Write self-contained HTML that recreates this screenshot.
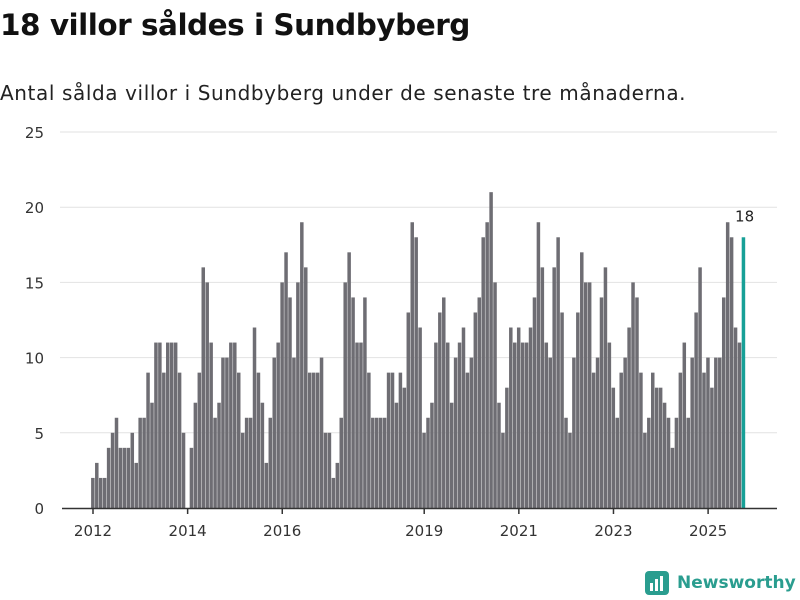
<!DOCTYPE html>
<html><head><meta charset="utf-8"><style>
body{margin:0;width:800px;height:600px;background:#fff;font-family:"Liberation Sans","DejaVu Sans",sans-serif;overflow:hidden;position:relative}
h1{position:absolute;left:0;top:8px;margin:0;font-size:29.5px;font-weight:bold;color:#111;font-family:"DejaVu Sans","Liberation Sans",sans-serif;letter-spacing:-0.5px}
.sub{position:absolute;left:0;top:81px;font-size:20px;color:#222;font-family:"DejaVu Sans","Liberation Sans",sans-serif;letter-spacing:0.6px}
svg{position:absolute;left:0;top:0}
</style></head><body>
<h1>18 villor såldes i Sundbyberg</h1>
<div class="sub">Antal sålda villor i Sundbyberg under de senaste tre månaderna.</div>
<svg id="chart" width="800" height="600"></svg>
<script>
const values=[2,3,2,2,4,5,6,4,4,4,5,3, 6,6,9,7,11,11,9,11,11,11,9,5, 0,4,7,9,16,15,11,6,7,10,10,11, 11,9,5,6,6,12,9,7,3,6,10,11, 15,17,14,10,15,19,16,9,9,9,10,5, 5,2,3,6,15,17,14,11,11,14,9,6, 6,6,6,9,9,7,9,8,13,19,18,12, 5,6,7,11,13,14,11,7,10,11,12,9, 10,13,14,18,19,21,15,7,5,8,12,11, 12,11,11,12,14,19,16,11,10,16,18,13, 6,5,10,13,17,15,15,9,10,14,16,11, 8,6,9,10,12,15,14,9,5,6,9,8, 8,7,6,4,6,9,11,6,10,13,16,9, 10,8,10,10,14,19,18,12,11,18];
const yTicks=[0,5,10,15,20,25];
const xTickLabels=["2012","2014","2016","2019","2021","2023","2025"];
const xTickIndex=[0,24,48,84,108,132,156];
const lastLabel="18";
const NS="http://www.w3.org/2000/svg";
const svg=document.getElementById('chart');
const step=3.943;
function x(i){return 93+i*step;}
function y(v){return 508-v*15.04;}
function mk(t,a){const e=document.createElementNS(NS,t);for(const k in a)e.setAttribute(k,a[k]);svg.appendChild(e);return e;}
yTicks.forEach(t=>{
 if(t>0){const g=mk('line',{x1:60,x2:777,y1:y(t),y2:y(t),stroke:'#e2e2e2','stroke-width':1});
 
 }
 const l=mk('text',{x:44,y:y(t)+6,'text-anchor':'end','font-size':15,fill:'#333','font-family':'DejaVu Sans, Liberation Sans, sans-serif'});
 l.textContent=t;
 
 
});
values.forEach((v,i)=>{
 const last=i===values.length-1;
 const r=mk('rect',{x:x(i)-1.9,y:y(v),width:3.5,height:v*15.04,fill:last?'#17a097':'#6e6d73'});
 
 
});
const li=values.length-1;
const lt=mk('text',{x:x(li)+1,y:y(values[li])-16,'text-anchor':'middle','font-size':15,fill:'#222','font-family':'DejaVu Sans, Liberation Sans, sans-serif'});
lt.textContent=lastLabel;


const ax=mk('line',{x1:62,x2:777,y1:508.5,y2:508.5,stroke:'#333','stroke-width':1.5});


xTickLabels.forEach((s,j)=>{
 const xx=x(xTickIndex[j]);
 const tk=mk('line',{x1:xx,x2:xx,y1:508,y2:514,stroke:'#333','stroke-width':1.5});
 
 
 const t=mk('text',{x:xx,y:536,'text-anchor':'middle','font-size':15,fill:'#333','font-family':'DejaVu Sans, Liberation Sans, sans-serif'});
 t.textContent=s;
 
 
});
</script>
<div style="position:absolute;left:645px;top:570px;height:26px;display:flex;align-items:center">
 <svg width="24" height="24" style="position:static"><rect x="0" y="0" width="24" height="24" rx="4" fill="#2a9d8f"/><rect x="5" y="12" width="3" height="8" fill="#fff"/><rect x="10" y="8" width="3" height="12" fill="#fff"/><rect x="15" y="5" width="3" height="15" fill="#fff"/></svg>
 <span style="margin-left:8px;font-size:17px;font-weight:bold;color:#2a9d8f;font-family:'DejaVu Sans','Liberation Sans',sans-serif">Newsworthy</span>
</div>
</body></html>
